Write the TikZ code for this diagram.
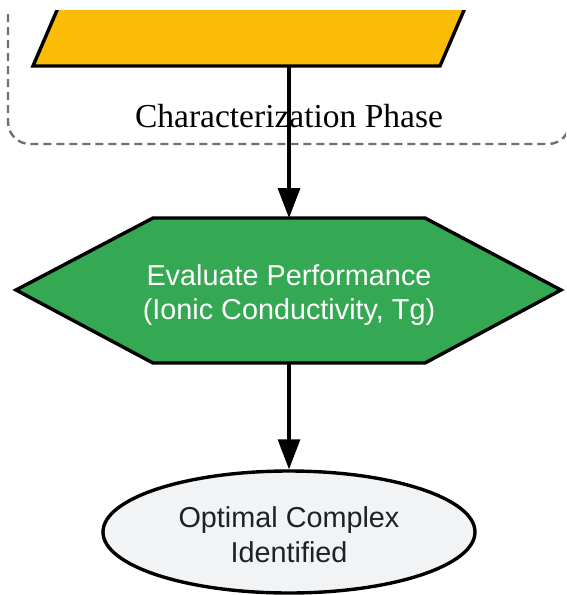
\documentclass[tikz,border=0pt]{standalone}
\usepackage{fontspec}
\setmainfont{Liberation Serif}
\newfontfamily\sansfam{Liberation Sans}
\usetikzlibrary{shapes.geometric,arrows.meta}
\definecolor{gyellow}{HTML}{FBBC05}
\definecolor{ggreen}{HTML}{34A853}
\definecolor{glight}{HTML}{F1F3F4}
\definecolor{gdark}{HTML}{202124}
\definecolor{ggray}{HTML}{707070}
\begin{document}
\begin{tikzpicture}[x=1pt,y=-1pt,
  edge/.style={line width=3.4pt,-{Triangle[length=30pt,width=22pt]}},
  cluster/.style={draw=ggray,line width=2.4pt,dash pattern=on 8pt off 5pt,rounded corners=22pt},
  para/.style={draw=black,fill=gyellow,line width=3.4pt},
  hexa/.style={draw=black,fill=ggreen,line width=3.4pt,line join=miter},
  clusterlabel/.style={font=\fontsize{33.5}{40}\selectfont,text=black,inner sep=0pt,anchor=base},
  evaltext/.style={font=\sansfam\fontsize{28.8}{34.5}\selectfont,text=white,align=center,inner sep=0pt},
  endnode/.style={ellipse,draw=black,fill=glight,line width=3.4pt,minimum width=372pt,minimum height=122pt,inner sep=0pt,
    font=\sansfam\fontsize{28.8}{34.5}\selectfont,text=gdark}]
\useasboundingbox (0,0) rectangle (566,595);
\fill[white] (0,0) rectangle (566,595);
\begin{scope}
  \clip (0,10) rectangle (566,595);
  \draw[cluster] (8,-60) rectangle (570,144);
  \draw[para] (33,66) -- (440,66) -- (477,-20) -- (70,-20) -- cycle;
\end{scope}
\coordinate (prepbot) at (289,66);
\node[clusterlabel] (phase) at (289,127) {Characterization Phase};
\draw[hexa] (16,290) -- (153,218) -- (425,218) -- (561,290) -- (425,363) -- (153,363) -- cycle;
\coordinate (evaltop) at (289,218);
\coordinate (evalbot) at (289,363);
\node[evaltext] (eval) at (289,295) {Evaluate Performance\\(Ionic Conductivity, Tg)};
\node[endnode] (done) at (289,532) {\raisebox{-6pt}[\height][\depth]{\begin{tabular}{@{}c@{}}Optimal Complex\\Identified\end{tabular}}};
\draw[edge] (prepbot) -- (evaltop);
\draw[edge] (evalbot) -- (done.north);
\end{tikzpicture}
\end{document}
